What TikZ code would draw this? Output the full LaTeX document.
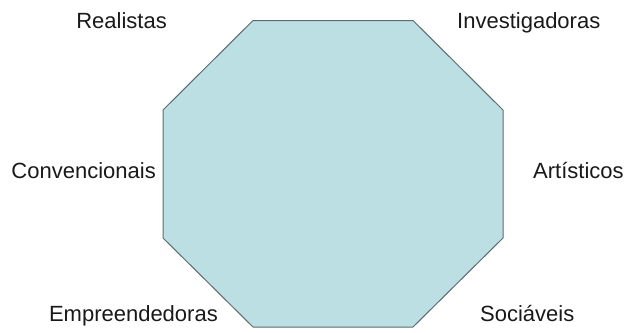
\documentclass[tikz,border=0pt]{standalone}
\usepackage{fontspec}
\setmainfont{Liberation Sans}
\usepackage{xcolor}
\usepackage{tikz}
\usetikzlibrary{positioning,calc}

\definecolor{octfill}{HTML}{BBDFE2}
\definecolor{octline}{HTML}{5E6B6C}

\tikzset{
  tipo/.style={inner sep=0pt, font=\fontsize{22}{26}\selectfont, text=black!90}
}

\begin{document}
\begin{tikzpicture}[x=1pt, y=-1pt]
  \useasboundingbox (0,0) rectangle (629,332);

  % Octagon
  \coordinate (o1) at (253,20.5);
  \coordinate (o2) at (413,20.5);
  \coordinate (o3) at (503,110);
  \coordinate (o4) at (503,238);
  \coordinate (o5) at (413,327);
  \coordinate (o6) at (253,327);
  \coordinate (o7) at (163,238);
  \coordinate (o8) at (163,110);
  \draw[octline, line width=1pt, fill=octfill, line join=miter]
    (o1) -- (o2) -- (o3) -- (o4) -- (o5) -- (o6) -- (o7) -- (o8) -- cycle;

  % Labels
  \node[tipo, anchor=base east] (real) at (167,28) {Realistas};
  \node[tipo, anchor=base west] (inve) at (457,28) {Investigadoras};
  \node[tipo, anchor=base east] (conv) at (156,178) {Convencionais};
  \node[tipo, anchor=base west] (arti) at (533,178) {Artísticos};
  \node[tipo, anchor=base east] (empr) at (218,321) {Empreendedoras};
  \node[tipo, anchor=base west] (soci) at (480,321) {Sociáveis};
\end{tikzpicture}
\end{document}
